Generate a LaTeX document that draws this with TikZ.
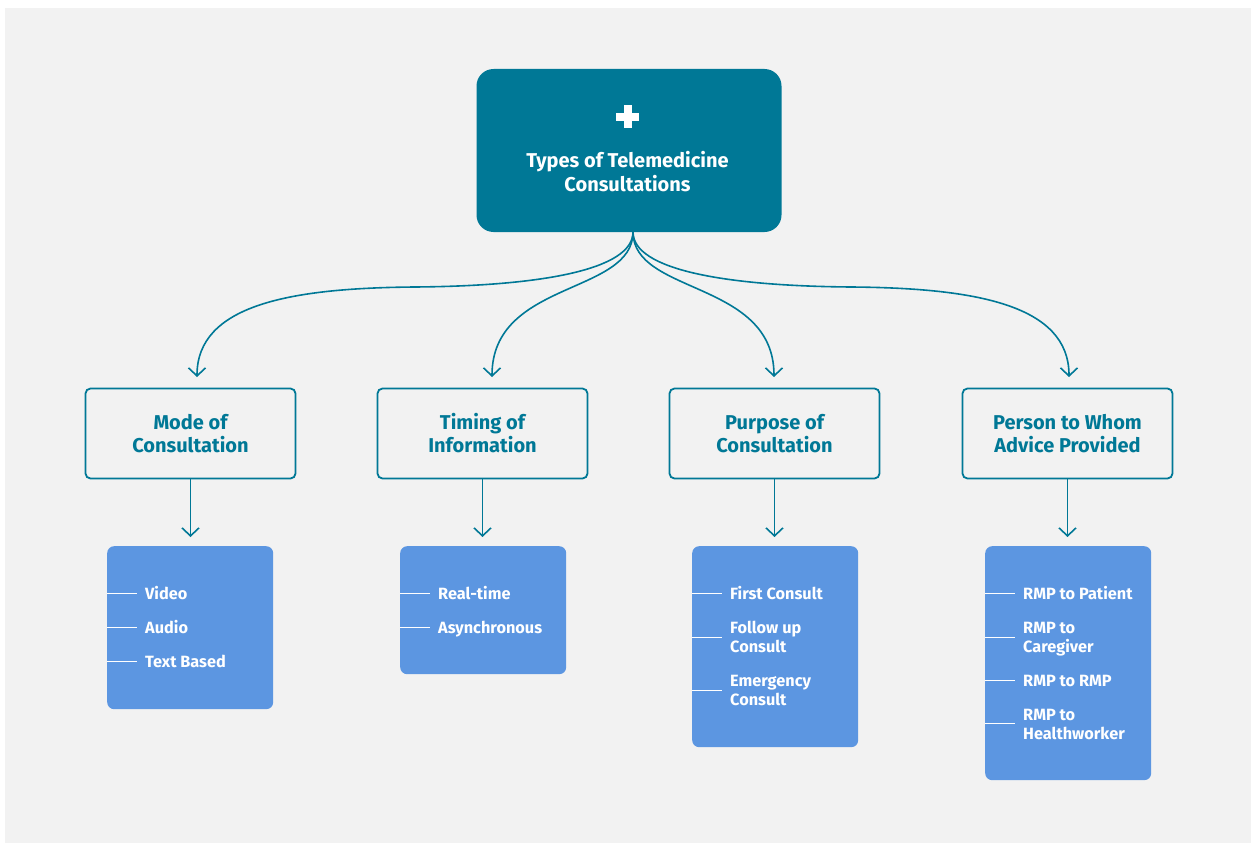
\documentclass[tikz,border=0pt]{standalone}
\usepackage{fontspec}
\setmainfont{Fira Sans}
\usetikzlibrary{arrows.meta}
\definecolor{teal1}{RGB}{0,120,150}
\definecolor{blu}{RGB}{92,150,225}
\definecolor{panel}{RGB}{242,242,242}
\begin{document}
\begin{tikzpicture}[x=1pt,y=-1pt,
 topbox/.style={fill=teal1, rounded corners=17pt, inner sep=0, minimum width=305pt, minimum height=163pt},
 toptext/.style={text=white, font=\fontsize{20}{24}\selectfont\bfseries, align=center, inner sep=0},
 catbox/.style={draw=teal1, line width=1.8pt, fill=panel, rounded corners=5pt, minimum width=210pt, minimum height=90pt, inner sep=0, font=\fontsize{20}{23}\selectfont\bfseries, text=teal1, align=center},
 listbox/.style={fill=blu, rounded corners=7pt, inner sep=0, minimum width=166pt, anchor=north west},
 item/.style={anchor=base west, inner sep=0, text=white, font=\fontsize{16.3}{19}\selectfont\bfseries},
 tick/.style={draw=white, line width=1pt},
 link/.style={draw=teal1, line width=1.6pt, -{Straight Barb[length=8pt,width=17pt]}}
]
\useasboundingbox (0,0) rectangle (1251,843);
\fill[white] (0,0) rectangle (1251,843);
\fill[panel] (5,8) rectangle (1251,843);

% top box
\node[topbox] (T) at (629,150.5) {};
\fill[white] (623.5,105) rectangle (631.5,128);
\fill[white] (616,112.5) rectangle (639,120.5);
\node[toptext] (Tt) at (627.5,171.5) {Types of Telemedicine\\Consultations};

% category boxes
\node[catbox] (C1) at (190.5,433.5) {Mode of\\Consultation};
\node[catbox] (C2) at (482.5,433.5) {Timing of\\Information};
\node[catbox] (C3) at (774.5,433.5) {Purpose of\\Consultation};
\node[catbox] (C4) at (1067.5,433.5) {Person to Whom\\Advice Provided};

% curved connectors
\coordinate (hub) at (633,232);
\coordinate (e1) at (197,377);
\coordinate (e2) at (492,377);
\coordinate (e3) at (774,377);
\coordinate (e4) at (1069,377);
\coordinate (m1) at (415,287);
\coordinate (m4) at (851,287);
\draw[link] (hub) .. controls (633,270) and (540,286) .. (m1) .. controls (290,288) and (197,305) .. (e1);
\draw[link] (hub) .. controls (633,295) and (492,280) .. (e2);
\draw[link] (hub) .. controls (633,295) and (774,280) .. (e3);
\draw[link] (hub) .. controls (633,270) and (726,286) .. (m4) .. controls (976,288) and (1069,305) .. (e4);

% list boxes
\node[listbox, minimum height=163pt] (L1) at (107,546) {};
\node[listbox, minimum height=128pt] (L2) at (400,546) {};
\node[listbox, minimum height=201pt] (L3) at (692,546) {};
\node[listbox, minimum height=234pt] (L4) at (985,546) {};

\foreach \c/\l in {C1/L1,C2/L2,C3/L3,C4/L4}
  \draw[link, shorten >=9pt] (\c.south) -- (\c.south |- \l.north);

% list 1
\draw[tick] (107,593) -- (137,593);
\draw[tick] (107,627) -- (137,627);
\draw[tick] (107,661) -- (137,661);
\node[item] (i11) at (145,599.3) {Video};
\node[item] (i12) at (145,633.3) {Audio};
\node[item] (i13) at (145,667.3) {Text Based};

% list 2
\draw[tick] (400,593) -- (430,593);
\draw[tick] (400,627) -- (430,627);
\node[item] (i21) at (438,599.3) {Real-time};
\node[item] (i22) at (438,633.3) {Asynchronous};

% list 3
\draw[tick] (692,593) -- (722,593);
\draw[tick] (692,637) -- (722,637);
\draw[tick] (692,690) -- (722,690);
\node[item] (i31) at (730,599.3) {First Consult};
\node[item] (i32a) at (730,633.8) {Follow up};
\node[item] (i32b) at (730,652.8) {Consult};
\node[item] (i33a) at (730,686.8) {Emergency};
\node[item] (i33b) at (730,705.8) {Consult};

% list 4
\draw[tick] (985,593) -- (1015,593);
\draw[tick] (985,637) -- (1015,637);
\draw[tick] (985,680) -- (1015,680);
\draw[tick] (985,723) -- (1015,723);
\node[item] (i41) at (1023,599.3) {RMP to Patient};
\node[item] (i42a) at (1023,633.8) {RMP to};
\node[item] (i42b) at (1023,652.8) {Caregiver};
\node[item] (i43) at (1023,686.3) {RMP to RMP};
\node[item] (i44a) at (1023,720.3) {RMP to};
\node[item] (i44b) at (1023,739.3) {Healthworker};
\end{tikzpicture}
\end{document}
